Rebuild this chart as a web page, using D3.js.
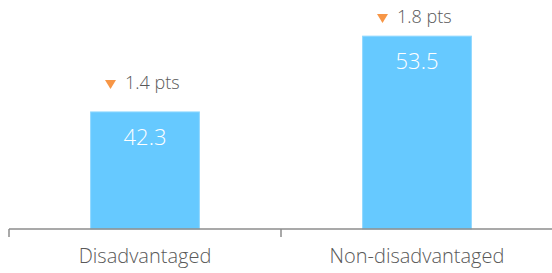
<!DOCTYPE html>
<html>
<head>
<meta charset="utf-8">
<script src="https://cdn.jsdelivr.net/npm/d3@7"></script>
<style>
  body { margin: 0; background: #fff; }
  svg { display: block; font-family: "Open Sans", "Noto Sans", sans-serif; }
</style>
</head>
<body>
<svg id="chart" width="552" height="273"></svg>
<script>
// chart data
const categories = ["Disadvantaged", "Non-disadvantaged"];
const values = [42.3, 53.5];
const changes = ["1.4 pts", "1.8 pts"];

const barColor = "#66c9ff";
const arrowColor = "#f79646";
const textColor = "#595959";

let svg = d3.select("#chart");

let x = d3.scaleBand()
	.domain(categories)
	.range([9, 553])
	.paddingInner(0.6)
	.paddingOuter(0.3);

// axis does not start at zero
let y = d3.scaleLinear()
	.domain([25, 55])
	.range([229, 26]);

// bars
svg.selectAll(".bar")
	.data(values)
	.enter()
	.append("rect")
	.attr("class", "bar")
	.attr("x", (d, i) => x(categories[i]))
	.attr("y", d => y(d))
	.attr("width", x.bandwidth())
	.attr("height", d => y.range()[0] - y(d))
	.style("fill", barColor)
	.style("stroke", "#8fd8ff")
	.style("stroke-width", 1);

// value labels inside bars
svg.selectAll(".val")
	.data(values)
	.enter()
	.append("text")
	.attr("class", "val")
	.attr("x", (d, i) => x(categories[i]) + x.bandwidth() / 2)
	.attr("y", d => y(d) + 33)
	.attr("text-anchor", "middle")
	.style("font-size", "22px")
	.style("font-weight", 300)
	.style("fill", "#fff")
	.text(d => d.toFixed(1));

// change annotations
let ann = svg.selectAll(".ann")
	.data(values)
	.enter()
	.append("g")
	.attr("class", "ann")
	.attr("transform", (d, i) => {
		let cx = x(categories[i]) + x.bandwidth() / 2;
		let base = Math.max(y(d) - 23, 23);
		return `translate(${cx},${base})`;
	});

ann.append("path")
	.attr("d", "M-40,-9 L-29,-9 L-34.5,0 Z")
	.style("fill", arrowColor);

ann.append("text")
	.attr("x", -20)
	.attr("y", 0)
	.style("font-size", "18px")
	.style("font-weight", 300)
	.style("fill", textColor)
	.text((d, i) => changes[i]);

// x axis
let axis = svg.append("g")
	.attr("transform", "translate(0,229)");

axis.append("line")
	.attr("x1", 9)
	.attr("x2", 553)
	.style("stroke", "#8c8c8c")
	.style("stroke-width", 1.5);

let ticks = [9, x.step() + 9, 2 * x.step() + 9];
axis.selectAll(".tick")
	.data(ticks)
	.enter()
	.append("line")
	.attr("x1", d => d)
	.attr("x2", d => d)
	.attr("y1", 0)
	.attr("y2", 8)
	.style("stroke", "#8c8c8c")
	.style("stroke-width", 1.5);

axis.selectAll(".cat")
	.data(categories)
	.enter()
	.append("text")
	.attr("class", "cat")
	.attr("x", d => x(d) + x.bandwidth() / 2)
	.attr("y", 34)
	.attr("text-anchor", "middle")
	.style("font-size", "20px")
	.style("font-weight", 300)
	.style("fill", textColor)
	.text(d => d);
</script>
</body>
</html>
